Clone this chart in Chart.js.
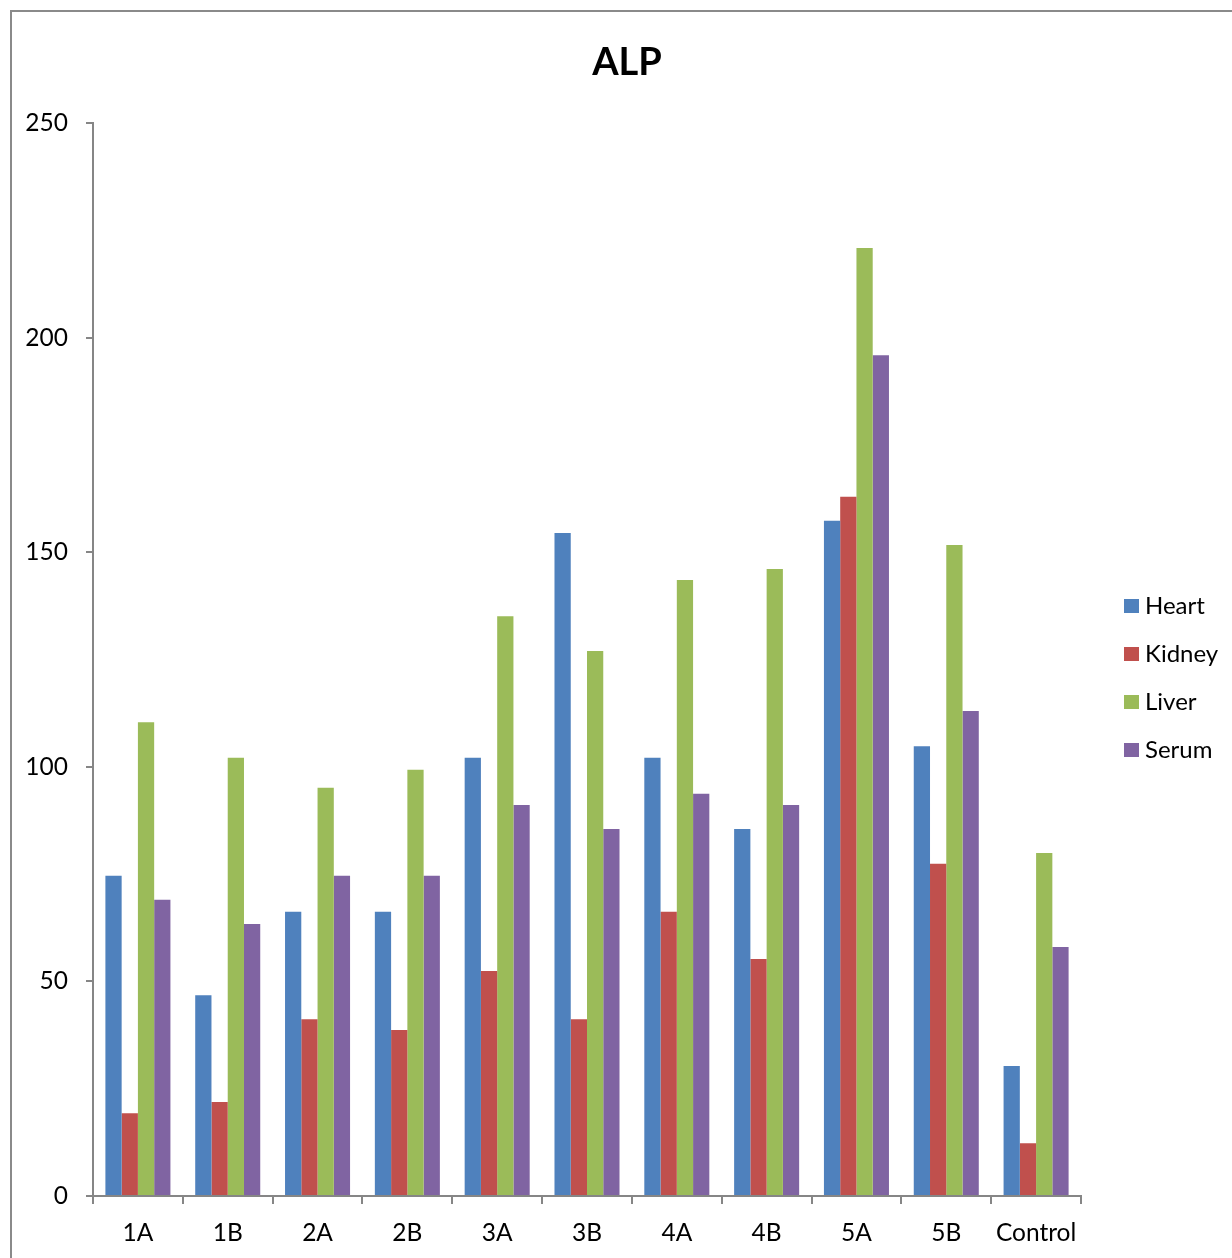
<!DOCTYPE html>
<html>
<head>
<meta charset="utf-8">
<script src="https://cdn.jsdelivr.net/npm/chart.js@4.4.0/dist/chart.umd.min.js"></script>
<style>
  html, body { margin: 0; padding: 0; background: #fff; }
  #wrap { width: 1232px; height: 1258px; position: relative; }
</style>
</head>
<body>
<div id="wrap"><canvas id="alp" width="1232" height="1258"></canvas></div>
<script>
// Chart data
const categories = ["1A", "1B", "2A", "2B", "3A", "3B", "4A", "4B", "5A", "5B", "Control"];
const heart  = [74.6, 46.8, 66.2, 66.2, 102.1, 154.5, 102.1, 85.5, 157.3, 104.8, 30.3];
const kidney = [19.3, 21.9, 41.2, 38.7, 52.4, 41.2, 66.2, 55.2, 162.9, 77.4, 12.3];
const liver  = [110.4, 102.1, 95.1, 99.3, 135.1, 127.0, 143.5, 146.1, 220.9, 151.7, 79.9];
const serum  = [69.0, 63.4, 74.6, 74.6, 91.1, 85.5, 93.7, 91.1, 195.9, 113.0, 58.0];
const yTicks = [0, 50, 100, 150, 200, 250];

const axisColor = "#868686";
const fontFamily = "Lato, 'Open Sans', sans-serif";

// Frame, title and legend drawn on the canvas
const decorPlugin = {
    id: "decor",
    beforeDraw(chart) {
        const ctx = chart.ctx;
        ctx.save();
        ctx.fillStyle = "#fff";
        ctx.fillRect(0, 0, chart.width, chart.height);
        ctx.strokeStyle = "#8a8a8a";
        ctx.lineWidth = 2;
        ctx.beginPath();
        ctx.moveTo(11, chart.height + 5);
        ctx.lineTo(11, 11);
        ctx.lineTo(chart.width + 5, 11);
        ctx.stroke();
        ctx.restore();
    },
    afterDraw(chart) {
        const ctx = chart.ctx;
        ctx.save();
        ctx.fillStyle = "#000";
        ctx.font = "bold 38px " + fontFamily;
        ctx.textAlign = "center";
        ctx.textBaseline = "alphabetic";
        ctx.fillText("ALP", 627, 75);

        ctx.font = "24px " + fontFamily;
        ctx.textAlign = "left";
        ctx.textBaseline = "middle";
        chart.data.datasets.forEach((ds, i) => {
            const y = 606 + i * 48;
            ctx.fillStyle = ds.backgroundColor;
            ctx.fillRect(1124, y - 7, 15, 14);
            ctx.fillStyle = "#000";
            ctx.fillText(ds.label, 1145, y);
        });
        ctx.restore();
    }
};

const ctx = document.getElementById("alp").getContext("2d");
new Chart(ctx, {
    type: "bar",
    data: {
        labels: categories,
        datasets: [
            { label: "Heart",  data: heart,  backgroundColor: "#4F81BD" },
            { label: "Kidney", data: kidney, backgroundColor: "#C0504D" },
            { label: "Liver",  data: liver,  backgroundColor: "#9BBB59" },
            { label: "Serum",  data: serum,  backgroundColor: "#8064A2" }
        ]
    },
    options: {
        responsive: false,
        animation: false,
        events: [],
        datasets: { bar: { barPercentage: 1, categoryPercentage: 0.724 } },
        layout: { padding: { left: 0, right: 151, top: 123, bottom: 0 } },
        plugins: { legend: { display: false }, title: { display: false }, tooltip: { enabled: false } },
        scales: {
            x: {
                grid: { drawOnChartArea: false, drawTicks: true, tickLength: 8, color: axisColor, lineWidth: 2, offset: true },
                border: { display: true, color: axisColor, width: 2 },
                ticks: { color: "#000", font: { family: fontFamily, size: 24.5 }, padding: 14, maxRotation: 0, autoSkip: false },
                afterFit(scale) { scale.height = 62; }
            },
            y: {
                min: 0,
                max: 250,
                afterBuildTicks(scale) { scale.ticks = yTicks.map(v => ({ value: v })); },
                grid: { drawOnChartArea: false, drawTicks: true, tickLength: 7, color: axisColor, lineWidth: 2 },
                border: { display: true, color: axisColor, width: 2 },
                ticks: { color: "#000", font: { family: fontFamily, size: 24.5 }, padding: 18 },
                afterFit(scale) { scale.width = 93; }
            }
        }
    },
    plugins: [decorPlugin]
});
</script>
</body>
</html>
